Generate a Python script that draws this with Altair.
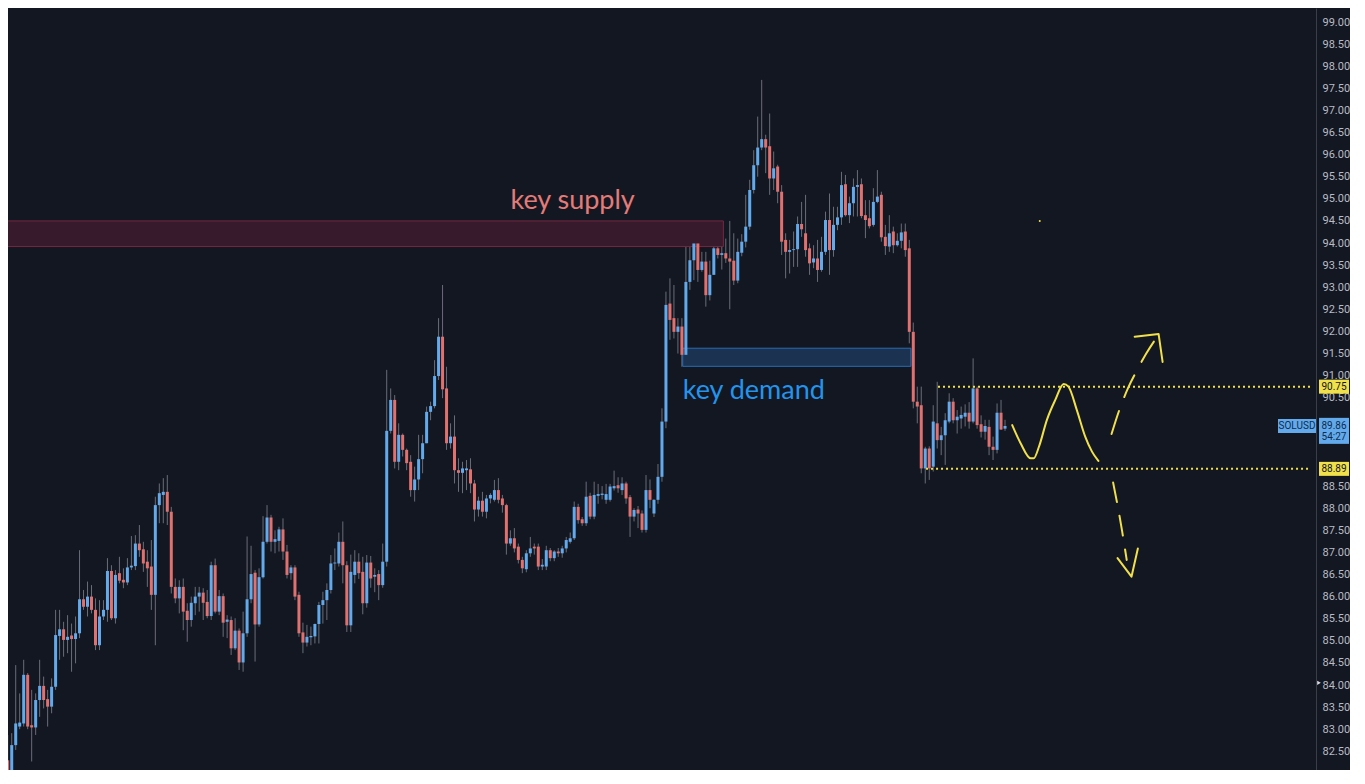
import altair as alt
import pandas as pd

# ---------------- candle data (SOLUSD) ----------------
OPEN = [
82.30, 82.04, 82.64, 83.06, 83.13, 84.23, 83.09, 83.04, 83.66, 83.98,
83.68, 83.51, 83.96, 85.11, 85.26, 85.02, 85.12, 85.04, 85.17, 85.94,
85.77, 86.00, 85.70, 84.90, 85.55, 85.70, 86.58, 85.51, 86.53, 86.38,
86.32, 86.66, 86.69, 87.20, 87.07, 86.79, 86.68, 86.04, 88.07, 88.30,
88.37, 87.92, 86.22, 85.96, 86.22, 85.68, 85.47, 85.85, 86.00, 86.09,
85.88, 85.56, 86.71, 85.66, 86.01, 85.43, 85.47, 84.83, 85.23, 84.51,
85.17, 85.94, 86.54, 85.37, 86.44, 87.24, 87.79, 87.24, 87.26, 87.52,
87.02, 86.53, 86.66, 86.04, 85.19, 84.96, 85.08, 85.10, 85.38, 85.81,
85.92, 86.15, 86.75, 86.75, 87.24, 86.71, 85.35, 86.49, 86.79, 86.56,
85.85, 86.77, 86.45, 86.51, 86.26, 86.79, 89.75, 90.45, 89.05, 89.66,
89.32, 89.05, 88.41, 88.65, 89.11, 89.47, 90.18, 90.31, 90.99, 91.88,
90.71, 89.47, 89.62, 88.86, 88.80, 88.86, 88.88, 88.56, 87.97, 88.17,
87.92, 88.22, 88.19, 88.41, 88.22, 88.07, 87.20, 87.32, 87.13, 86.83,
86.62, 86.98, 87.13, 87.13, 86.68, 86.68, 87.05, 86.87, 87.02, 86.98,
87.09, 87.24, 87.32, 88.03, 87.75, 87.66, 88.28, 87.81, 88.28, 88.30,
88.19, 88.19, 88.45, 88.52, 88.41, 88.56, 88.25, 87.81, 87.97, 87.88,
87.51, 88.41, 87.88, 88.19, 88.71, 89.96, 92.63, 92.30, 91.99, 92.11,
91.47, 93.12, 93.61, 93.99, 93.39, 93.58, 92.82, 93.28, 93.88, 93.73,
93.77, 93.65, 93.60, 93.15, 93.78, 94.03, 94.37, 95.20, 95.76, 96.16,
96.35, 96.19, 95.46, 95.73, 95.16, 94.07, 93.80, 93.84, 93.86, 94.43,
94.22, 93.88, 93.56, 93.65, 93.39, 93.80, 94.52, 93.84, 94.41, 94.58,
95.33, 94.63, 94.90, 95.27, 95.33, 94.63, 94.56, 94.41, 94.93, 95.09,
94.14, 93.92, 94.26, 93.95, 94.05, 94.26, 93.88, 91.99, 90.41, 90.33,
88.90, 89.35, 88.94, 89.92, 89.54, 89.65, 89.96, 90.41, 89.99, 90.03,
90.07, 90.16, 89.96, 90.71, 89.90, 89.73, 89.84, 89.39, 89.32, 90.16, 89.80,
]
HIGH = [
82.87, 82.91, 84.45, 83.81, 84.57, 84.27, 83.89, 83.81, 84.57, 84.19,
83.89, 84.15, 85.70, 85.70, 85.43, 85.58, 85.39, 85.55, 87.05, 86.15,
86.34, 86.26, 85.96, 85.92, 85.92, 86.87, 86.71, 86.60, 86.90, 86.64,
86.87, 87.37, 87.39, 87.62, 87.24, 87.05, 87.28, 88.26, 88.56, 88.68,
88.75, 88.03, 86.41, 86.37, 86.41, 85.85, 86.00, 86.22, 86.22, 86.19,
86.15, 86.79, 86.86, 86.15, 86.07, 85.58, 85.55, 85.51, 85.28, 85.66,
87.36, 87.15, 86.60, 86.64, 87.82, 88.07, 87.85, 87.50, 87.58, 87.77,
87.17, 86.71, 86.71, 86.11, 85.41, 85.36, 85.32, 85.39, 85.88, 86.11,
86.30, 86.94, 87.09, 87.45, 87.70, 86.80, 86.95, 87.05, 86.98, 86.90,
86.94, 86.92, 86.64, 86.60, 87.20, 91.13, 90.71, 90.56, 89.92, 89.69,
89.35, 89.20, 88.94, 89.66, 89.66, 90.30, 90.41, 91.35, 92.30, 93.05,
91.20, 89.92, 90.10, 89.13, 89.05, 89.09, 89.13, 88.64, 88.26, 88.37,
88.30, 88.34, 88.64, 88.68, 88.30, 88.10, 87.50, 87.55, 87.20, 86.90,
87.05, 87.35, 87.20, 87.20, 86.85, 87.15, 87.10, 87.05, 87.10, 87.15,
87.35, 87.45, 88.15, 88.10, 87.80, 88.60, 88.35, 88.60, 88.55, 88.50,
88.55, 88.55, 88.85, 88.70, 88.70, 88.60, 88.30, 88.00, 88.05, 87.95,
88.75, 88.65, 88.20, 89.00, 90.26, 92.90, 93.20, 93.05, 92.30, 92.30,
93.95, 94.29, 94.33, 94.22, 93.80, 93.80, 93.60, 94.00, 94.14, 94.50,
94.10, 94.50, 94.22, 94.10, 94.20, 95.09, 95.43, 96.10, 96.86, 97.69,
96.45, 96.93, 96.07, 95.77, 95.31, 94.22, 94.07, 94.26, 94.60, 94.93,
95.09, 93.99, 93.95, 94.07, 94.14, 94.71, 95.12, 94.82, 94.82, 95.61,
95.54, 95.05, 95.46, 95.65, 95.46, 94.97, 94.97, 95.24, 95.65, 95.16,
94.41, 94.63, 94.37, 94.22, 94.44, 94.44, 94.07, 92.20, 90.75, 90.75,
89.39, 89.40, 90.33, 90.86, 89.84, 90.15, 90.60, 90.49, 90.22, 90.30,
90.35, 90.40, 91.39, 90.75, 90.10, 90.00, 90.00, 89.62, 90.37, 90.45, 90.00,
]
LOW = [
81.76, 81.76, 82.53, 83.00, 83.06, 83.00, 82.27, 82.87, 83.28, 83.47,
83.06, 83.36, 83.89, 84.57, 84.64, 84.72, 84.30, 84.49, 85.06, 85.70,
85.55, 85.62, 84.79, 84.79, 85.47, 85.43, 85.47, 85.39, 86.30, 86.19,
86.26, 86.60, 86.60, 86.90, 86.56, 86.22, 85.70, 84.90, 87.66, 87.66,
87.62, 86.07, 85.85, 85.62, 85.24, 84.98, 85.32, 85.58, 85.66, 85.47,
85.51, 85.47, 85.62, 85.58, 85.09, 85.06, 84.68, 84.79, 84.34, 84.30,
85.09, 85.85, 84.53, 85.32, 86.41, 87.20, 87.02, 86.98, 87.02, 86.83,
86.41, 86.38, 85.92, 85.09, 84.72, 84.87, 84.90, 84.94, 84.94, 85.39,
85.47, 86.07, 86.60, 86.68, 86.30, 85.20, 85.20, 86.30, 86.40, 85.60,
85.75, 86.20, 86.10, 85.92, 86.20, 86.68, 89.69, 88.90, 88.86, 89.17,
88.86, 88.26, 88.15, 88.41, 88.79, 89.47, 89.99, 90.26, 90.90, 90.49,
89.32, 89.35, 88.56, 88.37, 88.34, 88.41, 88.34, 87.70, 87.81, 87.81,
87.77, 88.11, 88.15, 88.11, 87.90, 86.95, 87.15, 87.00, 86.75, 86.53,
86.55, 86.90, 86.95, 86.60, 86.60, 86.60, 86.80, 86.80, 86.90, 86.88,
87.00, 87.20, 87.28, 87.65, 87.60, 87.60, 87.75, 87.75, 88.10, 88.20,
88.10, 88.15, 88.40, 88.35, 88.30, 88.10, 87.35, 87.70, 87.55, 87.45,
87.45, 88.00, 87.80, 88.10, 88.60, 89.81, 91.81, 91.84, 91.50, 91.20,
91.35, 92.94, 93.16, 93.12, 93.35, 92.56, 92.70, 93.28, 93.65, 93.40,
93.55, 92.50, 93.05, 93.09, 93.70, 93.90, 94.30, 95.12, 95.50, 96.10,
95.58, 95.09, 95.20, 94.90, 93.73, 93.20, 93.31, 93.46, 93.46, 94.14,
93.69, 93.28, 93.43, 93.12, 93.35, 93.73, 93.28, 93.69, 94.29, 94.41,
94.60, 94.45, 94.60, 94.60, 94.56, 94.11, 94.33, 94.37, 94.90, 94.03,
93.73, 93.80, 93.77, 93.92, 93.88, 93.69, 91.73, 90.26, 89.92, 88.79,
88.56, 88.64, 88.83, 89.35, 89.20, 88.98, 89.92, 89.92, 89.69, 89.80,
89.85, 89.80, 89.92, 89.80, 89.60, 89.55, 89.20, 89.09, 89.24, 89.77, 89.75,
]
CLOSE = [
82.04, 82.64, 83.13, 83.15, 84.23, 83.06, 83.04, 83.66, 83.98, 83.66,
83.51, 83.96, 85.13, 85.26, 85.02, 85.09, 85.04, 85.17, 85.94, 85.77,
86.00, 85.70, 84.90, 85.55, 85.70, 86.58, 85.51, 86.49, 86.36, 86.32,
86.66, 86.70, 87.20, 87.05, 86.75, 86.64, 86.04, 88.07, 88.34, 88.37,
87.92, 86.22, 85.96, 86.22, 85.66, 85.47, 85.86, 86.00, 86.09, 85.86,
85.56, 86.71, 85.66, 86.01, 85.41, 85.48, 84.83, 85.23, 84.51, 85.17,
85.94, 86.51, 85.37, 86.44, 87.24, 87.79, 87.24, 87.30, 87.52, 87.02,
86.49, 86.66, 86.00, 85.17, 84.96, 85.09, 85.11, 85.38, 85.81, 85.92,
86.15, 86.75, 86.77, 87.24, 86.71, 85.35, 86.56, 86.79, 86.53, 85.85,
86.77, 86.41, 86.49, 86.26, 86.79, 89.75, 90.45, 89.05, 89.66, 89.32,
89.02, 88.41, 88.65, 89.11, 89.47, 90.18, 90.31, 90.99, 91.88, 90.69,
89.47, 89.62, 88.86, 88.80, 88.90, 88.90, 88.56, 87.97, 88.17, 87.92,
88.22, 88.30, 88.41, 88.19, 88.07, 87.20, 87.32, 87.09, 86.83, 86.64,
86.98, 87.09, 87.09, 86.68, 86.72, 87.05, 86.87, 87.02, 86.98, 87.09,
87.28, 87.32, 88.03, 87.73, 87.66, 88.26, 87.81, 88.30, 88.32, 88.33,
88.32, 88.49, 88.50, 88.45, 88.56, 88.22, 87.81, 87.96, 87.88, 87.51,
88.41, 88.19, 88.19, 88.71, 89.96, 92.60, 92.26, 91.99, 92.11, 91.47,
93.12, 93.61, 93.99, 93.39, 93.58, 92.82, 93.28, 93.88, 93.73, 93.77,
93.65, 93.58, 93.15, 93.80, 94.03, 94.37, 95.20, 95.76, 96.16, 96.35,
96.16, 95.46, 95.69, 95.16, 94.03, 93.80, 93.84, 93.86, 94.43, 94.31,
93.84, 93.54, 93.65, 93.39, 93.80, 94.52, 93.84, 94.41, 94.58, 95.31,
94.63, 94.90, 95.27, 95.31, 94.61, 94.52, 94.38, 94.93, 95.05, 94.13,
93.93, 94.22, 93.95, 94.05, 94.24, 93.84, 91.99, 90.41, 90.30, 88.90,
89.35, 88.90, 89.96, 89.54, 89.65, 89.99, 90.41, 89.99, 90.07, 90.11,
90.16, 89.96, 90.71, 89.88, 89.73, 89.86, 89.39, 89.32, 90.16, 89.78, 89.86,
]

# zones (bar index from/to, price low/high)
ZONE_NAMES = ["supply", "demand"]
ZONE_X1 = [0.0, 170.2]
ZONE_X2 = [180.4, 227.4]
ZONE_LO = [93.92, 91.21]
ZONE_HI = [94.50, 91.62]

# horizontal range levels
LEVEL_PRICE = [90.75, 88.89]
LEVEL_START = [234.2, 231.2]
LEVEL_TEXT = ["90.75", "88.89"]

# hand-drawn projection paths (bar index, price)
WAVE_X = [252.8, 254.9, 257.4, 258.2, 259.5, 261.5, 263.6, 265.7, 266.9, 269.0, 271.1, 272.8, 274.4]
WAVE_Y = [89.88, 89.47, 89.13, 89.13, 89.39, 90.00, 90.45, 90.81, 90.75, 90.22, 89.62, 89.28, 89.07]
UP_X = [277.7, 279.8, 281.8, 283.9, 286.4, 289.3]
UP_Y = [89.68, 90.26, 90.71, 91.09, 91.50, 91.90]
UP_HEAD_X = [283.5, 289.5, 290.5]
UP_HEAD_Y = [91.88, 91.94, 91.31]
DN_X = [278.1, 279.2, 280.3, 281.5]
DN_Y = [88.58, 88.07, 87.51, 86.83]
DN_HEAD_X = [279.2, 282.7, 284.3]
DN_HEAD_Y = [86.87, 86.45, 87.09]

LAST_PRICE = 89.86
COUNTDOWN = "54:27"
SYMBOL = "SOLUSD"
# axis ticks every 0.50; those hidden behind the price tags are left out
AXIS_VALUES = [v for v in [82.5 + 0.5 * i for i in range(34)] if v not in (89.0, 89.5, 90.0)]

# ---------------- layout / style ----------------
W, H = 1308, 762
X_DOMAIN = [2.32, 327.7]
Y_DOMAIN = [82.077, 99.317]
BG = "#131722"
BLUE = "#62aaec"
RED = "#e0716e"
WICK = "#696d78"
YELLOW = "#f0e04a"

xs = alt.Scale(domain=X_DOMAIN, nice=False, zero=False)
ys = alt.Scale(domain=Y_DOMAIN, nice=False, zero=False)
YAXIS = alt.Axis(orient="right", values=AXIS_VALUES, format=".2f", title=None,
                 labelColor="#b9bcc5", labelFont="Roboto", labelFontSize=11,
                 labelPadding=6, ticks=False, grid=False,
                 domainColor="#3a3e4a", domainWidth=1)

n = len(OPEN)
df = pd.DataFrame({
    "i": list(range(1, n + 1)),
    "open": OPEN, "high": HIGH, "low": LOW, "close": CLOSE,
})
df["dir"] = ["up" if c >= o else "down" for o, c in zip(OPEN, CLOSE)]

zones = pd.DataFrame({"name": ZONE_NAMES, "x1": ZONE_X1, "x2": ZONE_X2, "lo": ZONE_LO, "hi": ZONE_HI})

def X(f):
    return alt.X(f, type="quantitative", scale=xs, axis=None)

def Y(f):
    return alt.Y(f, type="quantitative", scale=ys, axis=YAXIS, title=None)

# candles
wicks = alt.Chart(df).mark_rule(color=WICK, strokeWidth=1, clip=True).encode(
    x=X("i"), y=Y("low"), y2="high:Q")
bodies = alt.Chart(df).mark_bar(size=3, clip=True).encode(
    x=X("i"),
    y=Y("open"),
    y2="close:Q",
    color=alt.Color("dir:N", scale=alt.Scale(domain=["up", "down"], range=[BLUE, RED]), legend=None),
)

supply = alt.Chart(zones[zones.name == "supply"]).mark_rect(
    fill="#371b2d", stroke="#73283f", strokeWidth=1, clip=True).encode(
    x=X("x1"), x2="x2:Q", y=Y("lo"), y2="hi:Q")
demand = alt.Chart(zones[zones.name == "demand"]).mark_rect(
    fill="#1b3250", stroke="#2a6cb5", strokeWidth=1, clip=True).encode(
    x=X("x1"), x2="x2:Q", y=Y("lo"), y2="hi:Q")

labels_df = pd.DataFrame({"x": [142.6, 170.2], "y": [94.95, 90.65], "t": ["key supply", "key demand"]})
sup_text = alt.Chart(labels_df.iloc[[0]]).mark_text(
    font="Lato", fontSize=27, color="#e37b78", align="center", baseline="middle").encode(
    x=X("x"), y=Y("y"), text="t:N")
dem_text = alt.Chart(labels_df.iloc[[1]]).mark_text(
    font="Lato", fontSize=27, color="#2394ec", align="left", baseline="middle").encode(
    x=X("x"), y=Y("y"), text="t:N")

levels = pd.DataFrame({"p": LEVEL_PRICE, "x1": LEVEL_START, "x2": [X_DOMAIN[1]] * 2, "t": LEVEL_TEXT})
level_lines = alt.Chart(levels).mark_rule(color=YELLOW, strokeWidth=2, strokeDash=[2, 3]).encode(
    x=X("x1"), x2="x2:Q", y=Y("p"))

def path_layer(xv, yv, dash=None, interp="monotone"):
    d = pd.DataFrame({"x": xv, "y": yv})
    kw = dict(color=YELLOW, strokeWidth=2, interpolate=interp, strokeCap="round", strokeJoin="round")
    if dash:
        kw["strokeDash"] = dash
    return alt.Chart(d).mark_line(**kw).encode(x=X("x"), y=Y("y"))

wave = path_layer(WAVE_X, WAVE_Y)
up_shaft = path_layer(UP_X, UP_Y, dash=[24, 15])
up_head = path_layer(UP_HEAD_X, UP_HEAD_Y, interp="linear")
dn_shaft = path_layer(DN_X, DN_Y, dash=[20, 14])
dn_head = path_layer(DN_HEAD_X, DN_HEAD_Y, interp="linear")

dot = alt.Chart(pd.DataFrame({"x": [259.7], "y": [94.50]})).mark_point(
    filled=True, color=YELLOW, size=4, opacity=1).encode(x=X("x"), y=Y("y"))

# axis price tags
def box_path(w, h):
    hy = h / w
    return f"M-1,-{hy:.3f}H1V{hy:.3f}H-1Z"

tag_boxes = alt.Chart(levels).mark_point(
    shape=box_path(30, 14), size=900, filled=True, color=YELLOW, opacity=1).encode(
    x=alt.value(W + 18), y=Y("p"))
tag_text = alt.Chart(levels).mark_text(
    font="Roboto", fontSize=10, color="#131722", align="center", baseline="middle").encode(
    x=alt.value(W + 18), y=Y("p"), text="t:N")

last_df = pd.DataFrame({"p": [LAST_PRICE], "sym": [SYMBOL], "t": [f"{LAST_PRICE:.2f}"],
                        "cd": [COUNTDOWN], "pc": [LAST_PRICE - 0.11], "pd": [LAST_PRICE - 0.245]})
sym_box = alt.Chart(last_df).mark_point(
    shape=box_path(38, 14), size=38 * 38, filled=True, color=BLUE, opacity=1).encode(
    x=alt.value(W - 19), y=Y("p"))
sym_text = alt.Chart(last_df).mark_text(
    font="Roboto", fontSize=10, color="#0f2c4c", align="center", baseline="middle").encode(
    x=alt.value(W - 19), y=Y("p"), text="sym:N")
val_box = alt.Chart(last_df).mark_point(
    shape=box_path(30, 26), size=900, filled=True, color=BLUE, opacity=1).encode(
    x=alt.value(W + 18), y=Y("pc"))
val_text = alt.Chart(last_df).mark_text(
    font="Roboto", fontSize=10, color="#0f2c4c", align="center", baseline="middle").encode(
    x=alt.value(W + 18), y=Y("p"), text="t:N")
cd_text = alt.Chart(last_df).mark_text(
    font="Roboto", fontSize=10, color="#0f2c4c", align="center", baseline="middle").encode(
    x=alt.value(W + 18), y=Y("pd"), text="cd:N")

marker = alt.Chart(pd.DataFrame({"p": [84.05]})).mark_point(
    shape="triangle-right", size=18, filled=True, color="#d8dbe2", opacity=1).encode(
    x=alt.value(W + 3), y=Y("p"))

chart = alt.layer(
    wicks, supply, demand, bodies,
    sup_text, dem_text, level_lines,
    wave, up_shaft, up_head, dn_shaft, dn_head, dot,
    tag_boxes, tag_text, sym_box, sym_text, val_box, val_text, cd_text, marker,
).properties(
    width=W, height=H, padding=0, background=BG,
).configure_view(stroke=None)

chart.save("out.html", embed_options={"renderer": "svg", "actions": False})
